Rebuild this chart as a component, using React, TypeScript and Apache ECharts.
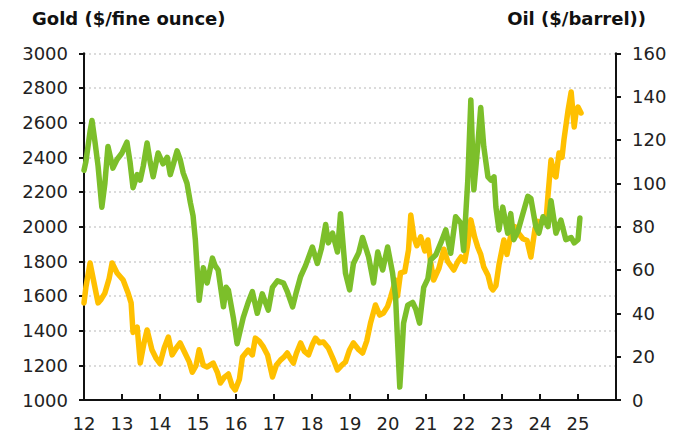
import React, { useEffect, useRef } from "react";
import * as echarts from "echarts";

// Gold ($/fine ounce), left axis; x = year (2-digit, decimal)
const goldDates = [12.0, 12.05, 12.16, 12.26, 12.37, 12.45, 12.55, 12.66, 12.74, 12.87, 13.03, 13.16, 13.24, 13.29, 13.4, 13.48, 13.58, 13.66, 13.79, 13.9, 14.0, 14.11, 14.22, 14.32, 14.43, 14.53, 14.66, 14.77, 14.85, 14.95, 15.03, 15.14, 15.24, 15.4, 15.51, 15.59, 15.69, 15.8, 15.9, 15.98, 16.09, 16.17, 16.32, 16.43, 16.51, 16.61, 16.72, 16.83, 16.96, 17.06, 17.17, 17.27, 17.35, 17.43, 17.51, 17.59, 17.7, 17.8, 17.91, 18.01, 18.09, 18.2, 18.3, 18.43, 18.57, 18.67, 18.78, 18.88, 18.99, 19.09, 19.23, 19.33, 19.44, 19.54, 19.67, 19.78, 19.88, 19.99, 20.07, 20.2, 20.25, 20.33, 20.44, 20.54, 20.6, 20.68, 20.76, 20.86, 20.97, 21.05, 21.12, 21.2, 21.34, 21.47, 21.57, 21.73, 21.84, 21.92, 22.02, 22.1, 22.18, 22.28, 22.36, 22.44, 22.52, 22.63, 22.71, 22.76, 22.84, 22.92, 23.05, 23.13, 23.23, 23.34, 23.44, 23.55, 23.66, 23.76, 23.87, 23.95, 24.05, 24.16, 24.21, 24.29, 24.37, 24.42, 24.5, 24.58, 24.63, 24.74, 24.82, 24.9, 24.95, 25.0, 25.08];
const goldValues = [1560, 1650, 1790, 1680, 1560, 1580, 1617, 1700, 1790, 1733, 1692, 1617, 1560, 1390, 1420, 1213, 1330, 1404, 1288, 1240, 1210, 1300, 1363, 1260, 1300, 1329, 1270, 1220, 1160, 1200, 1290, 1200, 1190, 1213, 1160, 1098, 1130, 1150, 1080, 1058, 1120, 1248, 1288, 1260, 1357, 1340, 1306, 1260, 1133, 1200, 1230, 1250, 1271, 1240, 1213, 1270, 1329, 1280, 1260, 1320, 1357, 1330, 1335, 1300, 1230, 1173, 1200, 1219, 1290, 1329, 1290, 1271, 1340, 1444, 1548, 1490, 1502, 1540, 1594, 1692, 1600, 1733, 1740, 1866, 2067, 1940, 1890, 1941, 1860, 1923, 1800, 1692, 1760, 1870, 1800, 1750, 1800, 1825, 1800, 1900, 2039, 1940, 1883, 1840, 1767, 1720, 1650, 1635, 1660, 1780, 1923, 1840, 1950, 2000, 1960, 1930, 1920, 1825, 1990, 2030, 2020, 2040, 2180, 2385, 2300, 2287, 2425, 2400, 2500, 2673, 2777, 2575, 2660, 2690, 2656];

// Oil ($/barrel), right axis
const oilDates = [12.0, 12.05, 12.16, 12.21, 12.29, 12.37, 12.47, 12.55, 12.63, 12.76, 12.87, 13.0, 13.13, 13.21, 13.29, 13.4, 13.48, 13.56, 13.66, 13.74, 13.82, 13.95, 14.08, 14.19, 14.27, 14.37, 14.45, 14.53, 14.61, 14.71, 14.8, 14.87, 14.93, 14.98, 15.03, 15.14, 15.24, 15.38, 15.45, 15.53, 15.67, 15.74, 15.8, 15.93, 16.03, 16.11, 16.19, 16.32, 16.43, 16.56, 16.69, 16.85, 16.96, 17.09, 17.25, 17.35, 17.49, 17.59, 17.7, 17.83, 18.01, 18.14, 18.25, 18.36, 18.43, 18.54, 18.67, 18.75, 18.88, 18.99, 19.09, 19.23, 19.33, 19.49, 19.62, 19.73, 19.86, 19.99, 20.12, 20.2, 20.25, 20.31, 20.36, 20.41, 20.52, 20.65, 20.73, 20.83, 20.94, 21.05, 21.12, 21.26, 21.39, 21.52, 21.65, 21.78, 21.92, 21.99, 22.1, 22.18, 22.26, 22.36, 22.44, 22.52, 22.63, 22.71, 22.79, 22.84, 22.92, 23.02, 23.15, 23.23, 23.31, 23.42, 23.5, 23.68, 23.76, 23.89, 23.97, 24.08, 24.21, 24.29, 24.42, 24.55, 24.68, 24.82, 24.9, 25.0, 25.05];
const oilValues = [106, 110, 124, 129, 119, 108, 89, 100, 117, 107, 111, 114, 119, 110, 98, 104, 101.5, 108, 118.6, 110, 103, 114, 109, 112, 104, 110, 115, 111, 104.8, 100, 91, 85, 74, 60, 46, 61, 54, 65.5, 62, 60, 43, 52, 50.7, 38, 26, 32, 38, 45, 50, 40, 49, 41.5, 52, 55, 54, 50, 43, 50, 57, 62, 70.6, 63, 70, 81, 72.5, 77, 68.3, 86, 58.6, 50.8, 63, 68, 75, 66, 54, 68.3, 60, 70.6, 58.6, 47.5, 27.7, 6, 20, 35.5, 43.8, 45, 42, 35.5, 52, 56, 64.6, 67, 72.5, 78.5, 67.7, 84.6, 81.6, 69, 101.5, 138.5, 97, 117, 135, 117, 103, 101.5, 103, 89, 78.5, 89, 77, 86, 74, 78, 83, 94, 93, 80, 77, 84.6, 80, 92, 77, 83, 74, 75, 72.5, 74, 84];

const xLabels = ["12", "13", "14", "15", "16", "17", "18", "19", "20", "21", "22", "23", "24", "25"];
const goldTitle = "Gold ($/fine ounce)";
const oilTitle = "Oil ($/barrel))";

const GOLD = "#FFC000";
const OIL = "#7CBF2A";
const FONT = "DejaVu Sans";

export default function App() {
  const ref = useRef<HTMLDivElement>(null);
  useEffect(() => {
    if (!ref.current) return;
    const chart = echarts.init(ref.current, null, { renderer: "svg" });
    const goldData = goldDates.map((d, i) => [d, goldValues[i]]);
    const oilData = oilDates.map((d, i) => [d, oilValues[i]]);
    chart.setOption({
      animation: false,
      backgroundColor: "#ffffff",
      grid: { left: 84, right: 67, top: 53.3, bottom: 39, containLabel: false },
      graphic: [
        {
          type: "text",
          left: 32,
          top: 9,
          style: { text: goldTitle, font: `600 18px "${FONT}"`, fill: "#111" },
        },
        {
          type: "text",
          right: 683 - 646,
          top: 9,
          style: { text: oilTitle, font: `600 18px "${FONT}"`, fill: "#111" },
        },
      ],
      xAxis: {
        type: "value",
        min: 12,
        max: 26,
        interval: 1,
        axisLine: { show: true, onZero: false, lineStyle: { color: "#111", width: 2 } },
        axisTick: { show: true, inside: true, length: 6, lineStyle: { color: "#111", width: 2 } },
        splitLine: { show: false },
        axisLabel: {
          margin: 14,
          fontFamily: FONT,
          fontSize: 18,
          color: "#222",
          formatter: (v: number) => {
            const i = Math.round(v) - 12;
            return i >= 0 && i < xLabels.length ? xLabels[i] : "";
          },
        },
      },
      yAxis: [
        {
          type: "value",
          min: 1000,
          max: 3000,
          interval: 200,
          position: "left",
          axisLine: { show: true, lineStyle: { color: "#111", width: 2 } },
          axisTick: { show: true, length: 5, lineStyle: { color: "#111", width: 2 } },
          splitLine: { show: true, lineStyle: { color: "#cfcfcf", type: [2, 3], width: 1.5 } },
          axisLabel: {
            margin: 16,
            fontFamily: FONT,
            fontSize: 18,
            color: "#222",
            formatter: (v: number) => String(v),
          },
        },
        {
          type: "value",
          min: 0,
          max: 160,
          interval: 20,
          position: "right",
          axisLine: { show: true, lineStyle: { color: "#111", width: 2 } },
          axisTick: { show: true, length: 5, lineStyle: { color: "#111", width: 2 } },
          splitLine: { show: false },
          axisLabel: {
            margin: 16,
            fontFamily: FONT,
            fontSize: 18,
            color: "#222",
            formatter: (v: number) => String(v),
          },
        },
      ],
      series: [
        {
          name: "Gold",
          type: "line",
          yAxisIndex: 0,
          data: goldData,
          showSymbol: false,
          symbol: "none",
          lineStyle: { color: GOLD, width: 5.5, join: "round", cap: "round" },
          z: 2,
        },
        {
          name: "Oil",
          type: "line",
          yAxisIndex: 1,
          data: oilData,
          showSymbol: false,
          symbol: "none",
          lineStyle: { color: OIL, width: 5.5, join: "round", cap: "round" },
          z: 3,
        },
      ],
    });
    return () => chart.dispose();
  }, []);
  return (
    <div
      ref={ref}
      style={{ position: "fixed", left: 0, top: 0, width: 683, height: 439, background: "#fff" }}
    />
  );
}
